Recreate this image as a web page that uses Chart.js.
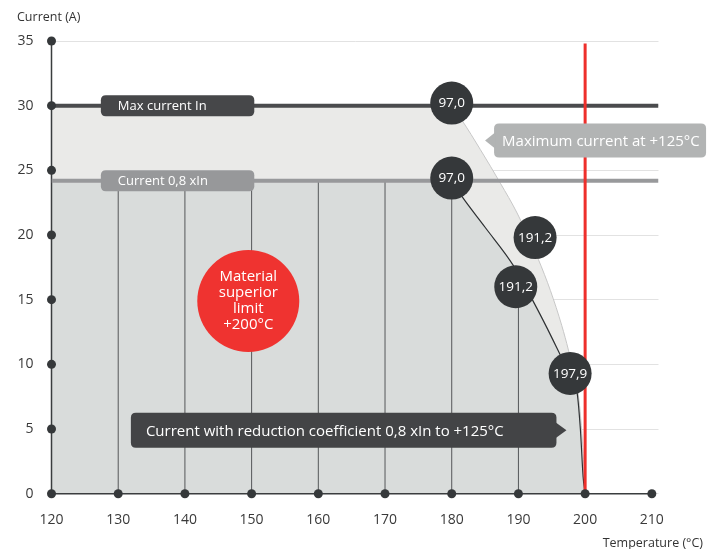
<!DOCTYPE html>
<html>
<head>
<meta charset="utf-8">
<script src="https://cdn.jsdelivr.net/npm/chart.js@4.4.1/dist/chart.umd.min.js"></script>
<style>
  html, body { margin: 0; padding: 0; background: #fff; }
  canvas { display: block; }
</style>
</head>
<body>
<canvas id="deratingChart" width="717" height="549"></canvas>
<script>
// axis ticks
const xTicks = [120, 130, 140, 150, 160, 170, 180, 190, 200, 210];
const yTicks = [0, 5, 10, 15, 20, 25, 30, 35];
const xMax = 211;

// current levels (A)
const maxCurrent = 30;
const reducedCurrent = 24.2;

// outer (max current) derating curve
const outerTemps    = [120, 180, 181.5, 184.3, 187.3, 189.8, 193, 194.8, 196.5, 197.5, 198.9, 199.6, 200];
const outerCurrents = [30, 30, 28.9, 26.6, 24.0, 21.7, 18.1, 15.7, 13.0, 11.1, 8, 4, 0];

// inner (0,8 xIn) derating curve
const innerTemps    = [120, 180, 181.5, 185, 189.3, 192.5, 194.3, 196.3, 198.8, 199.3, 199.7, 200];
const innerCurrents = [24.2, 24.2, 23.0, 20.6, 17.6, 14.6, 12.8, 10.7, 7.8, 4.9, 1.3, 0];

// vertical drop lines
const dropTemps = [130, 140, 150, 160, 170, 180, 190];
const dropTops  = [24.2, 24.2, 24.2, 24.2, 24.2, 24.2, 16];

// value markers
const markerLabels   = ['97,0', '97,0', '191,2', '191,2', '197,9'];
const markerTemps    = [180, 180, 192.5, 189.6, 197.75];
const markerCurrents = [30.2, 24.4, 19.8, 16.0, 9.3];

// material limit
const limitTemp = 200;
const limitTop = 34.8;
const limitBubbleTemp = 149.5;
const limitBubbleCurrent = 14.9;
const limitText = ['Material', 'superior', 'limit', '+200°C'];

const FONT = '"Open Sans", "Noto Sans", sans-serif';

function pts(xs, ys) {
  return xs.map((v, i) => ({ x: v, y: ys[i] }));
}

// drop lines as one dataset broken by gaps
const dropData = [];
dropTemps.forEach((t, i) => {
  dropData.push({ x: t, y: 0 }, { x: t, y: dropTops[i] }, { x: t, y: null });
});

const axisDots = yTicks.map(v => ({ x: xTicks[0], y: v }))
  .concat(xTicks.slice(1).map(v => ({ x: v, y: 0 })));

function roundRect(ctx, x, y, w, h, r) {
  ctx.beginPath();
  ctx.moveTo(x + r, y);
  ctx.lineTo(x + w - r, y);
  ctx.quadraticCurveTo(x + w, y, x + w, y + r);
  ctx.lineTo(x + w, y + h - r);
  ctx.quadraticCurveTo(x + w, y + h, x + w - r, y + h);
  ctx.lineTo(x + r, y + h);
  ctx.quadraticCurveTo(x, y + h, x, y + h - r);
  ctx.lineTo(x, y + r);
  ctx.quadraticCurveTo(x, y, x + r, y);
  ctx.closePath();
}

const overlayPlugin = {
  id: 'overlay',
  afterDatasetsDraw(chart) {
    const { ctx } = chart;
    const x = chart.scales.x, y = chart.scales.y;
    ctx.save();

    // tags sitting on the two horizontal lines
    const tagLeft = x.getPixelForValue(127.4);
    const tagRight = x.getPixelForValue(150.4);
    [[maxCurrent, 'Max current In', '#464749'], [reducedCurrent, 'Current 0,8 xIn', '#97989a']].forEach(([v, t, c]) => {
      const py = y.getPixelForValue(v);
      ctx.fillStyle = c;
      roundRect(ctx, tagLeft, py - 10.5, tagRight - tagLeft, 21, 5);
      ctx.fill();
      ctx.fillStyle = '#fff';
      ctx.font = '13px ' + FONT;
      ctx.textAlign = 'left';
      ctx.textBaseline = 'middle';
      ctx.fillText(t, tagLeft + 17, py + 0.5);
    });

    // callout: maximum current
    let tx = x.getPixelForValue(185), ty = y.getPixelForValue(27.3);
    let bx = tx + 9;
    ctx.fillStyle = '#b2b4b4';
    roundRect(ctx, bx, ty - 17, 212, 34, 5);
    ctx.fill();
    ctx.beginPath();
    ctx.moveTo(tx, ty); ctx.lineTo(bx + 1, ty - 8); ctx.lineTo(bx + 1, ty + 8);
    ctx.closePath(); ctx.fill();
    ctx.fillStyle = '#fff';
    ctx.font = '15px ' + FONT;
    ctx.textAlign = 'left';
    ctx.fillText('Maximum current at +125°C', bx + 8, ty + 1);

    // callout: reduced current
    tx = x.getPixelForValue(197.2); ty = y.getPixelForValue(4.9);
    bx = tx - 10;
    const bl = x.getPixelForValue(131.9);
    ctx.fillStyle = '#434446';
    roundRect(ctx, bl, ty - 17.5, bx - bl, 35, 5);
    ctx.fill();
    ctx.beginPath();
    ctx.moveTo(tx, ty); ctx.lineTo(bx - 1, ty - 8); ctx.lineTo(bx - 1, ty + 8);
    ctx.closePath(); ctx.fill();
    ctx.fillStyle = '#fff';
    ctx.fillText('Current with reduction coefficient 0,8 xIn to +125°C', bl + 15, ty + 1);

    // marker values
    ctx.font = '13.5px ' + FONT;
    ctx.textAlign = 'center';
    markerLabels.forEach((t, i) => {
      ctx.fillText(t, x.getPixelForValue(markerTemps[i]), y.getPixelForValue(markerCurrents[i]) + 0.5);
    });

    // material limit bubble text
    const cx = x.getPixelForValue(limitBubbleTemp), cy = y.getPixelForValue(limitBubbleCurrent);
    ctx.font = '15px ' + FONT;
    limitText.forEach((t, i) => {
      ctx.fillText(t, cx, cy + (i - (limitText.length - 1) / 2) * 16);
    });

    // axis titles
    ctx.fillStyle = '#333';
    ctx.font = '12.5px ' + FONT;
    ctx.textAlign = 'left';
    ctx.fillText('Current (A)', 17, 17);
    ctx.textAlign = 'right';
    ctx.fillText('Temperature (°C)', 703, 543);

    ctx.restore();
  }
};

new Chart(document.getElementById('deratingChart'), {
  type: 'line',
  data: {
    datasets: [
      {
        // max current area
        data: pts(outerTemps, outerCurrents),
        fill: 'origin',
        backgroundColor: '#eaeae8',
        borderColor: '#c8c8c8',
        borderWidth: 1,
        pointRadius: 0,
        cubicInterpolationMode: 'monotone',
        order: 10
      },
      {
        // reduced current area
        data: pts(innerTemps, innerCurrents),
        fill: 'origin',
        backgroundColor: '#d9dcdb',
        borderColor: '#2e3133',
        borderWidth: 1.2,
        pointRadius: 0,
        cubicInterpolationMode: 'monotone',
        order: 9
      },
      {
        data: dropData,
        borderColor: '#555759',
        borderWidth: 1,
        pointRadius: 0,
        spanGaps: false,
        order: 8
      },
      {
        // axes
        data: [{ x: xTicks[0], y: yTicks[0] }, { x: xTicks[0], y: yTicks[yTicks.length - 1] }, { x: xTicks[0], y: null },
               { x: xTicks[0], y: 0 }, { x: xTicks[xTicks.length - 1], y: 0 }],
        borderColor: '#3a3d3f',
        borderWidth: 1.5,
        pointRadius: 0,
        spanGaps: false,
        clip: false,
        order: 7
      },
      {
        data: [{ x: xTicks[0], y: maxCurrent }, { x: xMax, y: maxCurrent }],
        borderColor: '#4a4b4d',
        borderWidth: 4,
        pointRadius: 0,
        order: 6
      },
      {
        data: [{ x: xTicks[0], y: reducedCurrent }, { x: xMax, y: reducedCurrent }],
        borderColor: '#98999b',
        borderWidth: 4,
        pointRadius: 0,
        order: 6
      },
      {
        data: [{ x: limitTemp, y: 0 }, { x: limitTemp, y: limitTop }],
        borderColor: '#ee2f2b',
        borderWidth: 3,
        pointRadius: 0,
        clip: false,
        order: 5
      },
      {
        data: axisDots,
        showLine: false,
        pointRadius: 4.5,
        pointBackgroundColor: '#35383a',
        pointBorderWidth: 0,
        clip: false,
        order: 4
      },
      {
        data: [{ x: limitBubbleTemp, y: limitBubbleCurrent }],
        showLine: false,
        pointRadius: 51,
        pointBackgroundColor: '#ef3330',
        pointBorderWidth: 0,
        clip: false,
        order: 3
      },
      {
        data: pts(markerTemps, markerCurrents),
        showLine: false,
        pointRadius: 21.5,
        pointBackgroundColor: '#35383a',
        pointBorderWidth: 0,
        clip: false,
        order: 2
      }
    ]
  },
  options: {
    responsive: false,
    animation: false,
    events: [],
    layout: { autoPadding: false, padding: { top: 41, right: 58.5, left: 0, bottom: 0 } },
    plugins: {
      legend: { display: false },
      tooltip: { enabled: false }
    },
    scales: {
      x: {
        type: 'linear',
        min: xTicks[0],
        max: xMax,
        afterBuildTicks: s => { s.ticks = xTicks.map(v => ({ value: v })); },
        afterFit: s => { s.height = 55.3; s.paddingLeft = 0; s.paddingRight = 0; },
        grid: { display: false },
        border: { display: false },
        ticks: {
          color: '#3a3a3a',
          font: { family: FONT, size: 14 },
          padding: 10,
          maxRotation: 0,
          autoSkip: false
        }
      },
      y: {
        min: yTicks[0],
        max: yTicks[yTicks.length - 1],
        afterBuildTicks: s => { s.ticks = yTicks.map(v => ({ value: v })); },
        afterFit: s => { s.width = 51.5; s.paddingTop = 0; s.paddingBottom = 0; },
        grid: { color: '#e2e2e2', drawTicks: false },
        border: { display: false },
        ticks: {
          color: '#3a3a3a',
          font: { family: FONT, size: 14 },
          padding: 18
        }
      }
    }
  },
  plugins: [overlayPlugin]
});
</script>
</body>
</html>
